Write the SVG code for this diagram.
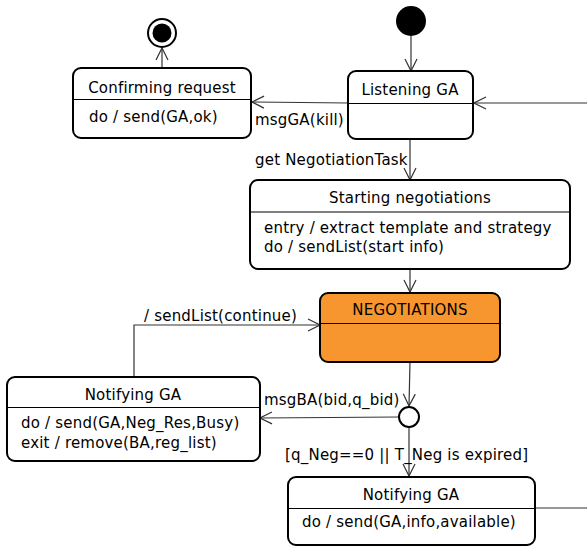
<svg xmlns="http://www.w3.org/2000/svg" width="587" height="548" viewBox="0 0 587 548">
<defs>
<style>
.box{fill:#fff;stroke:#000;stroke-width:2}
.hot{fill:#F7962F}
.div{stroke:#000;stroke-width:1.2}
.edge{fill:none;stroke:#333;stroke-width:1.2}
text{font-family:"DejaVu Sans","Liberation Sans",sans-serif;font-size:15px;letter-spacing:0.2px;fill:#000}
.c{text-anchor:middle}
</style>
<marker id="arr" viewBox="0 0 14 14" refX="13" refY="7" markerWidth="14" markerHeight="14" markerUnits="userSpaceOnUse" orient="auto">
<path d="M1,1 L13,7 L1,13" fill="none" stroke="#333" stroke-width="1.2"/>
</marker>
</defs>
<g id="connectors">
<path class="edge" d="M162,68 V48" marker-end="url(#arr)"/>
<path class="edge" d="M411,36 V71" marker-end="url(#arr)"/>
<path class="edge" d="M587,103 H474" marker-end="url(#arr)"/>
<path class="edge" d="M348,103 L252,102" marker-end="url(#arr)"/>
<text x="255" y="125">msgGA(kill)</text>
<path class="edge" d="M410,139 V180" marker-end="url(#arr)"/>
<text x="255" y="165">get NegotiationTask</text>
<path class="edge" d="M410,269 V292" marker-end="url(#arr)"/>
<path class="edge" d="M410,362 L409,406" marker-end="url(#arr)"/>
<path class="edge" d="M399,417 L260,418" marker-end="url(#arr)"/>
<text x="264" y="405">msgBA(bid,q_bid)</text>
<path class="edge" d="M134,377 V325 H320" marker-end="url(#arr)"/>
<text x="144" y="321">/ sendList(continue)</text>
<path class="edge" d="M409,427 V476" marker-end="url(#arr)"/>
<text x="285" y="460">[q_Neg==0 || T_Neg is expired]</text>
<path class="edge" d="M535,508 H587"/>
</g>
<g id="final">
<circle cx="162" cy="33" r="14" fill="#fff" stroke="#000" stroke-width="2"/>
<circle cx="162" cy="33" r="9.5" fill="#000"/>
</g>
<g id="initial">
<circle cx="411" cy="21" r="15" fill="#000"/>
</g>
<g id="confirming">
<rect class="box" x="73" y="68" width="178" height="70" rx="8"/>
<line class="div" x1="73" y1="99.5" x2="251" y2="99.5"/>
<text class="c" x="162" y="93">Confirming request</text>
<text x="89" y="122">do / send(GA,ok)</text>
</g>
<g id="listening">
<rect class="box" x="348" y="71" width="125" height="68" rx="8"/>
<line class="div" x1="348" y1="103.5" x2="473" y2="103.5"/>
<text class="c" x="410" y="95">Listening GA</text>
</g>
<g id="starting">
<rect class="box" x="250" y="180" width="320" height="89" rx="8"/>
<line class="div" x1="250" y1="212" x2="570" y2="212"/>
<text class="c" x="410" y="203">Starting negotiations</text>
<text x="264" y="233">entry / extract template and strategy</text>
<text x="264" y="252">do / sendList(start info)</text>
</g>
<g id="negotiations">
<rect class="box hot" x="320" y="293" width="180" height="69" rx="8"/>
<line class="div" x1="320" y1="323.5" x2="500" y2="323.5"/>
<text class="c" x="410" y="315">NEGOTIATIONS</text>
</g>
<g id="choice">
<circle cx="409" cy="417" r="10" fill="#fff" stroke="#000" stroke-width="2"/>
</g>
<g id="notifying1">
<rect class="box" x="7" y="377" width="253" height="84" rx="8"/>
<line class="div" x1="7" y1="407.5" x2="260" y2="407.5"/>
<text class="c" x="133" y="400">Notifying GA</text>
<text x="21" y="428">do / send(GA,Neg_Res,Busy)</text>
<text x="21" y="448">exit / remove(BA,reg_list)</text>
</g>
<g id="notifying2">
<rect class="box" x="288" y="477" width="247" height="68" rx="8"/>
<line class="div" x1="288" y1="508.5" x2="535" y2="508.5"/>
<text class="c" x="411" y="500">Notifying GA</text>
<text x="302" y="527">do / send(GA,info,available)</text>
</g>
</svg>
